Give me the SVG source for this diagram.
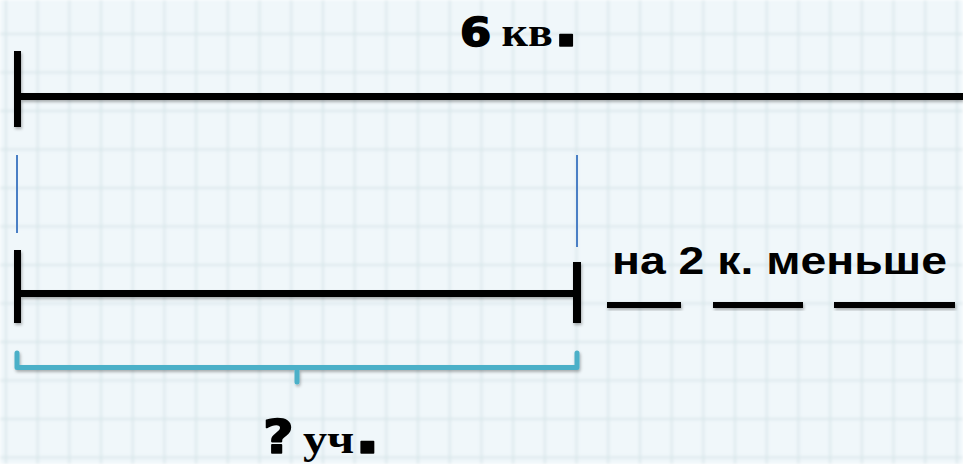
<svg xmlns="http://www.w3.org/2000/svg" width="963" height="464" viewBox="0 0 963 464">
  <defs>
    <pattern id="grid" x="5" y="33" width="31.7" height="38.5" patternUnits="userSpaceOnUse">
      <rect width="31.7" height="38.5" fill="#f0f7fa"/>
      <path d="M0,0 V38.5 M0,0 H31.7" stroke="#d7e5e9" stroke-width="3.5" fill="none"/>
    </pattern>
    <filter id="blur" x="0" y="0" width="1" height="1">
      <feGaussianBlur stdDeviation="1.8"/>
    </filter>
    <filter id="shadow" x="-5%" y="-20%" width="110%" height="160%">
      <feDropShadow dx="1" dy="2" stdDeviation="1.5" flood-color="#000" flood-opacity="0.3"/>
    </filter>
  </defs>
  <style>
    .bar { fill: #000; }
    .blue { stroke: #4a7fc5; stroke-width: 2; fill: none; }
    .teal { stroke: #4bb0c8; stroke-width: 5; fill: none; stroke-linecap: round; stroke-linejoin: round; }
    .heavy { font-family: "DejaVu Sans", sans-serif; font-weight: bold; stroke: #000; stroke-width: 1.6; stroke-linejoin: round; }
    .serif { font-family: "Liberation Serif", serif; font-weight: bold; }
    .sans { font-family: "Liberation Sans", Arial, sans-serif; font-weight: bold; font-size: 39px; }
  </style>
  <rect width="963" height="464" fill="url(#grid)" filter="url(#blur)"/>

  <g id="segment-top" filter="url(#shadow)">
    <rect class="bar" x="14" y="51" width="7" height="76"/>
    <rect class="bar" x="14" y="93" width="949" height="7"/>
  </g>
  <g id="label-top">
    <text transform="translate(460,46) scale(1.15,1)"><tspan class="heavy" font-size="39">6</tspan><tspan class="serif" font-size="40" dx="9">кв</tspan><tspan class="heavy" font-size="60">.</tspan></text>
  </g>

  <g id="guides">
    <line class="blue" x1="17" y1="155" x2="17" y2="233"/>
    <line class="blue" x1="577" y1="155" x2="577" y2="247"/>
  </g>

  <g id="segment-bottom" filter="url(#shadow)">
    <rect class="bar" x="14" y="250" width="7" height="73"/>
    <rect class="bar" x="14" y="290" width="567" height="7"/>
    <rect class="bar" x="573" y="262" width="8" height="61"/>
  </g>

  <g id="label-less">
    <text class="sans" x="612" y="274" textLength="335" lengthAdjust="spacingAndGlyphs">на 2 к. меньше</text>
    <g filter="url(#shadow)">
      <rect class="bar" x="607" y="302" width="74" height="6"/>
      <rect class="bar" x="713" y="302" width="90" height="6"/>
      <rect class="bar" x="834" y="302" width="121" height="6"/>
    </g>
  </g>

  <g id="brace" filter="url(#shadow)">
    <path class="teal" d="M17,353 V367.5 H577 V353 M297,367.5 V382"/>
  </g>

  <g id="label-bottom">
    <text transform="translate(263,453) scale(1.15,1)"><tspan class="heavy" font-size="46">?</tspan><tspan class="serif" font-size="42" dx="8">уч</tspan><tspan class="heavy" font-size="60">.</tspan></text>
  </g>
</svg>
